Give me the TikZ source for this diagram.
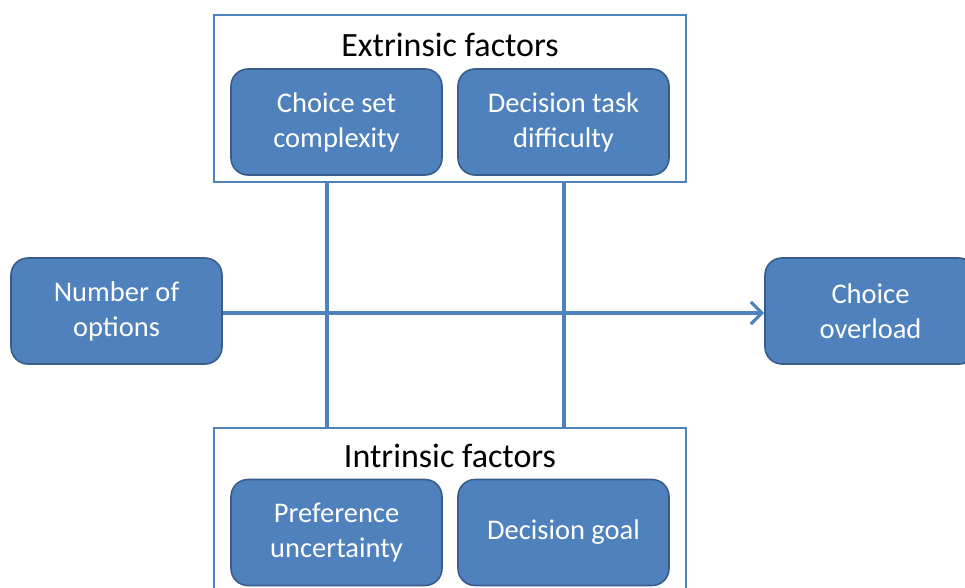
\documentclass[tikz,border=0pt]{standalone}
\usepackage{fontspec}
\setmainfont{Carlito}
\usetikzlibrary{arrows.meta}
\definecolor{boxfill}{HTML}{4F81BD}
\definecolor{boxline}{HTML}{385D8A}
\definecolor{frameline}{HTML}{4F81BD}
\tikzset{
  factor/.style={draw=boxline, line width=1.6pt, fill=boxfill, rounded corners=17pt,
    text=white, font=\fontsize{28.5}{35}\selectfont, align=center,
    minimum width=211pt, minimum height=106pt, inner sep=0pt},
  group/.style={draw=frameline, line width=2pt, fill=white},
  link/.style={draw=frameline, line width=3.3pt},
  grouptitle/.style={font=\fontsize{34}{40}\selectfont, text=black}
}
\begin{document}
\begin{tikzpicture}[x=1pt,y=-1pt]
\useasboundingbox (0,0) rectangle (965,587);
\begin{scope}
\clip (0,0) rectangle (965,587);
% group frames
\draw[group] (214,15) rectangle (686,182);
\draw[group] (214,428) rectangle (686,600);
\node[grouptitle] (ext) at (450,45) {Extrinsic factors};
\node[grouptitle] (int) at (450,456) {Intrinsic factors};
% factor boxes
\node[factor] (cs) at (336.5,122) {Choice set\\complexity};
\node[factor] (dt) at (563.5,122) {Decision task\\difficulty};
\node[factor] (pu) at (336.5,532.5) {Preference\\uncertainty};
\node[factor] (dg) at (563.5,532.5) {Decision goal};
\node[factor] (num) at (116.5,311) {Number of\\options};
\node[factor] (co) at (870.5,311) {Choice\\overload};
% moderator links between the two frames
\coordinate (t1) at (327,182);
\coordinate (b1) at (327,428);
\coordinate (t2) at (564,182);
\coordinate (b2) at (564,428);
\draw[link] (t1) -- (b1);
\draw[link] (t2) -- (b2);
% main effect
\draw[link, -{Straight Barb[length=11pt, width=22pt, line width=3.3pt]}] (num.east |- 0,313) -- (co.west |- 0,313);
\end{scope}
\end{tikzpicture}
\end{document}
